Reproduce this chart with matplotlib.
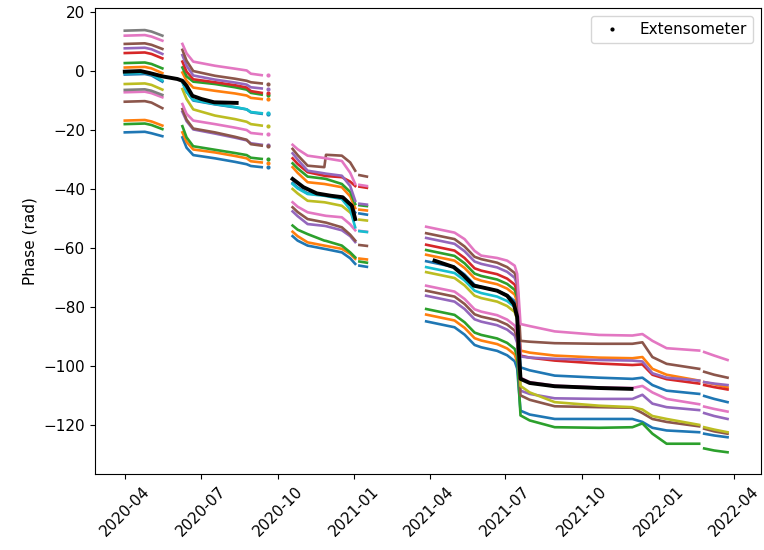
import numpy as np
import pandas as pd
import matplotlib
matplotlib.use('Agg')
import matplotlib.pyplot as plt
import matplotlib.dates as mdates
from matplotlib.lines import Line2D

nan = np.nan

# --- series (one row per InSAR point), colours follow the tab10 cycle ---
series_colors = ['tab:gray', 'tab:pink', 'tab:brown', 'tab:purple', 'tab:red',
                 'tab:green', 'tab:orange', 'tab:blue', 'tab:cyan', 'tab:olive',
                 'tab:gray', 'tab:pink', 'tab:brown', 'tab:purple', 'tab:green',
                 'tab:orange', 'tab:blue']

# block 1: spring 2020
seg1_dates = ['2020-04-01', '2020-04-25', '2020-05-03', '2020-05-16']
seg1_phase = [
    [13.7, 13.9, 13.4, 12.0],
    [12.0, 12.2, 11.7, 10.3],
    [9.2, 9.4, 8.9, 7.5],
    [7.7, 7.9, 7.4, 5.8],
    [6.1, 6.3, 5.8, 4.3],
    [2.7, 2.9, 2.4, 0.9],
    [1.2, 1.4, 0.9, -0.7],
    [-1.2, -1.0, -1.5, -3.6],
    [-0.8, -0.6, -1.1, -3.2],
    [-4.4, -4.2, -4.7, -6.3],
    [-6.4, -6.2, -6.7, -8.1],
    [-7.2, -7.0, -7.5, -8.9],
    [-10.4, -10.2, -10.7, -12.6],
    [nan, nan, nan, nan],
    [-18.0, -17.8, -18.3, -19.7],
    [-16.8, -16.6, -17.1, -18.5],
    [-20.8, -20.6, -21.1, -22.1],
]

# block 2: summer 2020
seg2_dates = ['2020-06-09', '2020-06-14', '2020-06-22', '2020-07-18',
              '2020-08-11', '2020-08-25', '2020-08-30', '2020-09-12']
seg2_phase = [
    [nan] * 8,
    [9.2, 6.0, 3.2, 1.8, 0.8, 0.2, -0.9, -1.4],
    [7.2, 3.5, 0.0, -1.6, -2.6, -3.3, -3.8, -4.2],
    [5.4, 1.8, -1.5, -2.9, -3.9, -4.6, -5.5, -5.9],
    [3.2, -0.2, -2.8, -3.8, -4.8, -5.6, -6.8, -7.4],
    [1.2, -1.8, -3.6, -4.4, -5.5, -6.3, -7.4, -8.0],
    [-0.5, -3.3, -5.6, -6.7, -7.6, -8.3, -9.1, -9.5],
    [-3.6, -7.0, -10.0, -11.3, -12.3, -13.0, -14.0, -14.5],
    [-3.8, -7.0, -9.8, -11.2, -12.2, -13.0, -13.9, -14.3],
    [-6.1, -9.5, -13.0, -15.1, -16.3, -17.2, -18.0, -18.5],
    [nan] * 8,
    [-11.2, -14.5, -16.8, -18.0, -19.2, -20.0, -21.0, -21.4],
    [-12.9, -16.5, -19.5, -20.8, -22.3, -23.3, -24.8, -25.3],
    [-13.8, -17.0, -19.8, -21.2, -22.6, -23.5, -24.5, -25.0],
    [-18.7, -22.5, -25.5, -26.7, -27.8, -28.5, -29.4, -29.8],
    [-20.8, -24.0, -26.6, -27.6, -28.8, -29.6, -30.6, -31.0],
    [-22.5, -26.0, -28.5, -29.6, -30.8, -31.6, -32.2, -32.6],
]
seg2_tail_date = '2020-09-19'
seg2_tail = [nan, -1.4, -4.3, -6.0, -7.4, -8.0, -9.6, -14.6, -14.3, -18.6,
             nan, -21.5, -25.4, -25.0, -29.8, -31.1, -32.7]

# block 3: autumn 2020
seg3_dates = ['2020-10-19', '2020-10-25', '2020-11-06', '2020-11-26',
              '2020-11-28', '2020-12-17', '2020-12-27', '2021-01-02']
seg3_phase = [
    [nan] * 8,
    [-25.0, -26.5, -28.7, -29.5, -29.6, -30.5, -34.5, -38.3],
    [-26.4, -28.5, -32.1, -32.6, -28.4, -28.7, -31.0, -33.8],
    [-27.9, -30.0, -33.8, -34.7, -34.8, -35.5, -39.0, -44.0],
    [-29.6, -31.5, -34.3, -35.5, -35.6, -36.0, -37.5, -39.0],
    [-31.3, -33.0, -35.8, -36.5, -36.6, -38.3, -41.0, -45.1],
    [-32.6, -34.5, -37.7, -38.3, -38.4, -39.4, -42.5, -46.5],
    [-38.0, -39.5, -41.5, -42.0, -42.1, -43.2, -45.5, -48.0],
    [-38.3, -39.8, -41.7, -42.3, -42.4, -43.4, -47.0, -53.0],
    [-40.0, -41.5, -44.0, -44.5, -44.6, -45.7, -48.0, -50.2],
    [nan] * 8,
    [-44.5, -46.0, -47.9, -49.0, -49.1, -49.6, -52.0, -54.0],
    [-46.2, -47.8, -50.2, -51.3, -51.4, -53.0, -55.5, -57.5],
    [-47.6, -49.2, -51.9, -52.5, -52.6, -54.0, -56.0, -58.0],
    [-52.4, -53.8, -55.3, -57.5, -57.6, -59.2, -61.5, -63.2],
    [-54.5, -56.0, -58.1, -59.2, -59.3, -60.3, -62.0, -63.7],
    [-56.0, -57.5, -59.2, -60.3, -60.4, -61.5, -63.5, -65.4],
]
seg3b_dates = ['2021-01-07', '2021-01-16']
seg3b_phase = [
    [nan, nan], [-38.6, -39.0], [-35.3, -35.8], [-45.0, -45.3], [-39.2, -39.6],
    [-45.5, -45.8], [-47.0, -47.3], [-48.3, -48.7], [-54.3, -54.6], [-50.4, -50.7],
    [nan, nan], [-54.2, -54.5], [-59.0, -59.3], [nan, nan], [-64.6, -65.0],
    [-63.6, -63.9], [-66.0, -66.4],
]

# block 4 + 5: spring 2021 to early 2022 (continuous, with the July jump)
seg4_dates = ['2021-03-28', '2021-05-01', '2021-05-13', '2021-05-25', '2021-06-02',
              '2021-06-21', '2021-07-03', '2021-07-12', '2021-07-15',
              '2021-07-19', '2021-07-30', '2021-08-29', '2021-10-21', '2021-11-30',
              '2021-12-12', '2021-12-24', '2022-01-10', '2022-02-18']
seg4_phase = [
    [nan] * 18,
    [-52.8, -54.8, -57.0, -61.0, -62.6, -63.4, -64.3, -66.0, -68.8,
     -85.8, -86.5, -88.3, -89.5, -89.7, -89.2, -91.5, -94.0, -94.8],
    [-55.0, -57.0, -59.5, -63.0, -63.8, -65.0, -66.5, -68.5, -71.0,
     -91.5, -91.8, -92.3, -92.5, -92.5, -92.0, -97.0, -99.3, -101.0],
    [-56.6, -58.6, -61.1, -64.6, -65.4, -66.6, -68.1, -70.1, -72.6,
     -96.8, -97.2, -97.6, -98.0, -98.2, -98.5, -102.5, -104.0, -105.0],
    [-58.9, -60.9, -63.4, -66.9, -67.7, -68.9, -70.4, -72.4, -74.9,
     -96.5, -97.2, -98.2, -99.2, -99.7, -99.5, -103.0, -104.5, -106.0],
    [-60.7, -62.7, -65.2, -68.7, -69.5, -70.7, -72.2, -74.2, -76.7,
     nan, nan, nan, nan, nan, nan, nan, nan, nan],
    [-62.3, -64.3, -66.8, -70.3, -71.1, -72.3, -73.8, -75.8, -78.3,
     -94.8, -95.5, -96.5, -97.2, -97.4, -97.0, -101.0, -103.0, -105.0],
    [-64.5, -66.5, -69.0, -72.5, -73.3, -74.5, -76.0, -78.0, -80.5,
     -100.5, -101.5, -103.3, -104.0, -104.4, -104.0, -106.5, -108.4, -109.5],
    [-66.5, -68.5, -71.0, -74.5, -75.3, -76.5, -78.0, -80.0, -82.5,
     nan, nan, nan, nan, nan, nan, nan, nan, nan],
    [-68.2, -70.2, -72.7, -76.2, -77.0, -78.2, -79.7, -81.7, -84.2,
     -106.8, -109.0, -112.3, -113.5, -114.0, -114.8, -117.0, -118.0, -120.0],
    [nan] * 18,
    [-72.8, -74.8, -77.3, -80.8, -81.6, -82.8, -84.3, -86.3, -88.8,
     -104.0, -105.5, -106.7, -107.3, -107.5, -106.8, -109.0, -111.2, -113.0],
    [-74.5, -76.5, -79.0, -82.5, -83.3, -84.5, -86.0, -88.0, -90.5,
     -110.0, -111.5, -113.7, -114.0, -114.2, -116.0, -118.0, -119.0, -120.5],
    [-76.2, -78.2, -80.7, -84.2, -85.0, -86.2, -87.7, -89.7, -92.2,
     -108.4, -109.5, -111.0, -111.2, -111.2, -109.8, -112.8, -114.0, -115.0],
    [-80.7, -82.7, -85.2, -88.7, -89.5, -90.7, -92.2, -94.2, -96.7,
     -116.8, -118.5, -120.8, -121.0, -120.8, -119.5, -123.0, -126.4, -126.4],
    [-82.6, -84.6, -87.1, -90.6, -91.4, -92.6, -94.1, -96.1, -98.6,
     nan, nan, nan, nan, nan, nan, nan, nan, nan],
    [-84.9, -86.9, -89.4, -92.9, -93.7, -94.9, -96.4, -98.4, -100.9,
     -115.2, -116.5, -118.0, -118.0, -118.0, -119.0, -121.0, -121.9, -122.5],
]
seg5b_dates = ['2022-02-24', '2022-03-08', '2022-03-24']
seg5b_phase = [
    [nan] * 3, [-95.3, -96.5, -98.0], [-102.0, -103.0, -104.0], [-105.5, -106.0, -106.5],
    [-106.5, -107.2, -108.0], [nan] * 3, [-105.5, -106.2, -107.3], [-110.2, -111.2, -112.3],
    [nan] * 3, [-120.8, -121.6, -122.5], [nan] * 3, [-113.8, -114.6, -115.5],
    [-121.3, -122.2, -123.0], [-116.0, -117.0, -118.0], [-128.0, -128.7, -129.3],
    [nan] * 3, [-123.0, -123.6, -124.2],
]

# extensometer record
ext_a_dates = ['2020-04-01', '2020-04-20', '2020-05-01', '2020-05-16', '2020-06-03',
               '2020-06-09', '2020-06-14', '2020-06-21', '2020-07-02', '2020-07-17',
               '2020-08-13']
ext_a = [-0.2, 0.0, -0.7, -1.8, -2.7, -3.3, -5.0, -8.4, -9.5, -10.6, -10.8]
ext_b_dates = ['2020-10-19', '2020-11-01', '2020-11-17', '2020-12-04', '2020-12-18',
               '2020-12-29', '2021-01-02']
ext_b = [-36.6, -39.4, -41.5, -42.3, -42.8, -45.7, -50.2]
ext_c_dates = ['2021-04-07', '2021-04-30', '2021-05-12', '2021-05-24', '2021-06-02',
               '2021-06-21', '2021-07-03', '2021-07-11', '2021-07-15', '2021-07-17',
               '2021-07-19', '2021-07-30', '2021-08-29', '2021-10-21', '2021-11-29']
ext_c = [-64.3, -66.5, -69.4, -72.8, -73.3, -74.5, -76.2, -79.0, -83.4, -95.0,
         -104.4, -105.8, -106.9, -107.5, -107.8]

# --- plotting ---
fig, ax = plt.subplots(figsize=(7.64, 5.5), dpi=100)
fig.subplots_adjust(left=0.124, right=0.996, top=0.985, bottom=0.138)

lw = 1.9
d1 = pd.to_datetime(seg1_dates)
d2 = pd.to_datetime(seg2_dates)
d3 = pd.to_datetime(seg3_dates)
d3b = pd.to_datetime(seg3b_dates)
d4 = pd.to_datetime(seg4_dates)
d5b = pd.to_datetime(seg5b_dates)
dt = pd.to_datetime([seg2_tail_date])

order = [16, 15, 14, 13, 12, 11, 10, 9, 7, 8, 6, 5, 4, 3, 2, 1, 0]
for i in order:
    c = series_colors[i]
    ax.plot(d1, seg1_phase[i], color=c, lw=lw)
    ax.plot(d2, seg2_phase[i], color=c, lw=lw)
    ax.plot(dt, [seg2_tail[i]], '.', color=c, ms=4)
    ax.plot(d3, seg3_phase[i], color=c, lw=lw)
    ax.plot(d3b, seg3b_phase[i], color=c, lw=lw)
    ax.plot(d4, seg4_phase[i], color=c, lw=lw)
    ax.plot(d5b, seg5b_phase[i], color=c, lw=lw)

for dd, vv in [(ext_a_dates, ext_a), (ext_b_dates, ext_b), (ext_c_dates, ext_c)]:
    ax.plot(pd.to_datetime(dd), vv, color='k', lw=2.8, zorder=5)

ax.set_xlim(pd.Timestamp('2020-02-25'), pd.Timestamp('2022-05-03'))
ax.set_ylim(-136.7, 21.3)
ax.xaxis.set_major_locator(mdates.MonthLocator(bymonth=[1, 4, 7, 10]))
ax.xaxis.set_major_formatter(mdates.DateFormatter('%Y-%m'))
plt.setp(ax.get_xticklabels(), rotation=45)
ax.tick_params(labelsize=11)
ax.set_ylabel('Phase (rad)', fontsize=11)

handle = Line2D([], [], marker='.', ls='', color='k', ms=4)
ax.legend([handle], ['Extensometer'], loc='upper right', fontsize=11)

fig.savefig('out.png', dpi=100)
